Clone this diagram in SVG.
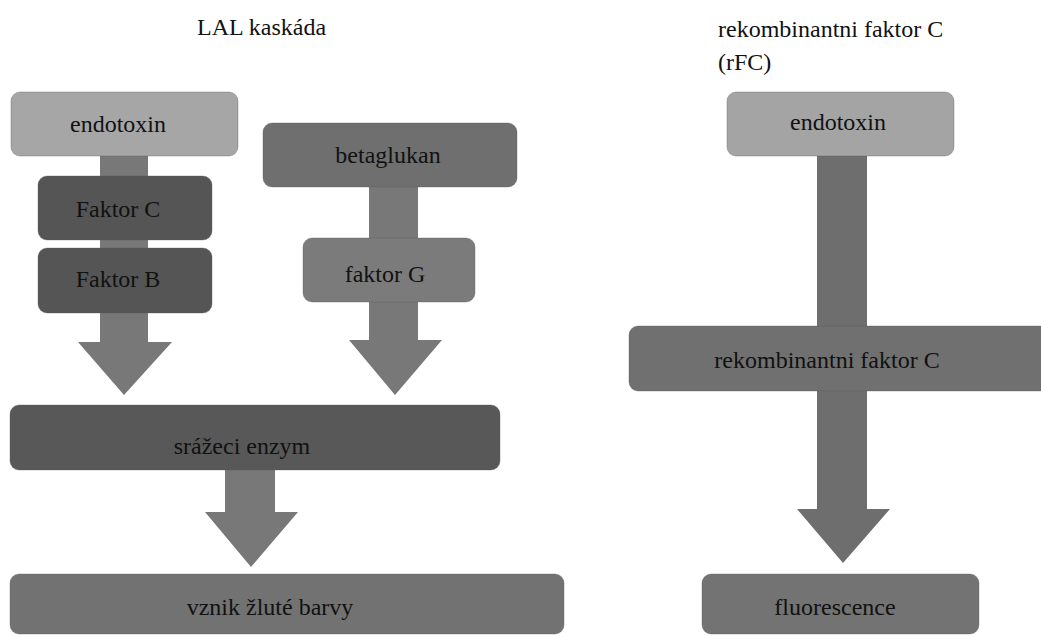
<svg xmlns="http://www.w3.org/2000/svg" width="1041" height="637" viewBox="0 0 1041 637">
<defs>
<style>
.t{font-family:'Liberation Serif','Times New Roman',Times,'DejaVu Serif','Noto Serif',FreeSerif,Georgia,serif;font-size:24px;fill:#111;text-anchor:middle}
.h{font-family:'Liberation Serif','Times New Roman',Times,'DejaVu Serif','Noto Serif',FreeSerif,Georgia,serif;font-size:24px;fill:#111}
.b{stroke:#5a5a5a;stroke-opacity:0.35;stroke-width:1}
.arr{fill:#787878}
</style>
</defs>
<rect width="1041" height="637" fill="#ffffff"/>
<text class="h" x="197" y="35">LAL kaskáda</text>
<text class="h" x="718" y="37">rekombinantni faktor C</text>
<text class="h" x="718" y="70">(rFC)</text>
<g id="connectors">
<polygon class="arr" points="100,150 148,150 148,342 172,342 124,395 78,342 100,342"/>
<polygon class="arr" points="369,180 418,180 418,340 442,340 395,395 349,340 369,340"/>
<polygon class="arr" points="225,465 275,465 275,512 298,512 251,567 205,512 225,512"/>
<polygon fill="#6e6e6e" points="817,150 867,150 867,509 890,509 843,563 797,509 817,509"/>
</g>
<g id="n_endotoxin_l"><rect class="b" x="11" y="92" width="227" height="64" rx="9" fill="#a6a6a6"/><text class="t" x="118" y="132">endotoxin</text></g>
<g id="n_faktorC"><rect class="b" x="38" y="176" width="174" height="64" rx="9" fill="#555555"/><text class="t" x="118" y="217">Faktor C</text></g>
<g id="n_faktorB"><rect class="b" x="38" y="248" width="174" height="65" rx="9" fill="#555555"/><text class="t" x="118" y="287">Faktor B</text></g>
<g id="n_betaglukan"><rect class="b" x="263" y="123" width="254" height="64" rx="9" fill="#6f6f6f"/><text class="t" x="388" y="163">betaglukan</text></g>
<g id="n_faktorG"><rect class="b" x="303" y="238" width="172" height="64" rx="9" fill="#7b7b7b"/><text class="t" x="385" y="282">faktor G</text></g>
<g id="n_srazeci"><rect class="b" x="10" y="405" width="490" height="65" rx="9" fill="#585858"/><text class="t" x="242" y="454">srážeci enzym</text></g>
<g id="n_vznik"><rect class="b" x="10" y="574" width="554" height="60" rx="9" fill="#727272"/><text class="t" x="270" y="615">vznik žluté barvy</text></g>
<g id="n_endotoxin_r"><rect class="b" x="727" y="92" width="227" height="64" rx="9" fill="#a4a4a4"/><text class="t" x="838" y="130">endotoxin</text></g>
<g id="n_rfc"><rect class="b" x="629" y="326" width="420" height="65" rx="9" fill="#707070"/><text class="t" x="827" y="368">rekombinantni faktor C</text></g>
<g id="n_fluorescence"><rect class="b" x="702" y="574" width="277" height="60" rx="9" fill="#737373"/><text class="t" x="835" y="615">fluorescence</text></g>
</svg>
